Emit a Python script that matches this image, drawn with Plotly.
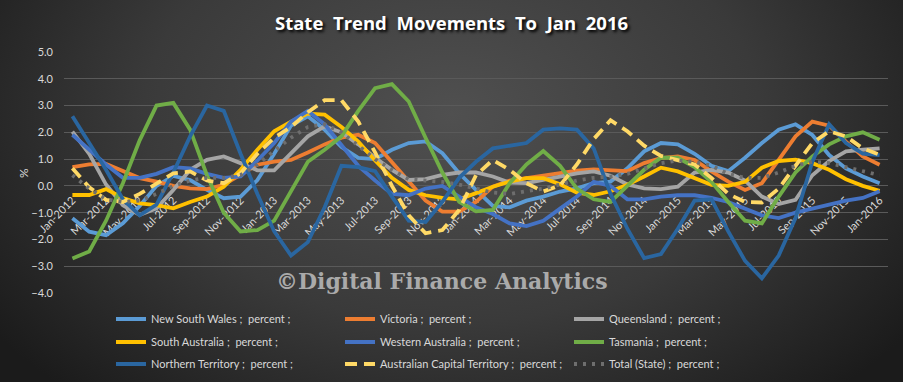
import base64
import plotly.graph_objects as go

# ---------------- data ----------------
MONTHS = ["Jan", "Feb", "Mar", "Apr", "May", "Jun", "Jul", "Aug", "Sep", "Oct", "Nov", "Dec"]
categories = [f"{m}-{y}" for y in range(2012, 2016) for m in MONTHS] + ["Jan-2016"]
tick_labels = categories[::2]

nsw = [-1.21, -1.71, -1.84, -1.4, -0.75, 0.0, 0.37, 0.22, -0.15, -0.46,
       -0.4, 0.22, 1.2, 2.25, 2.6, 2.1, 1.45, 1.05, 1.0, 1.35,
       1.6, 1.66, 1.22, 0.47, -0.15, -0.75, -0.8, -0.55, -0.4, -0.21,
       -0.09, 0.1, 0.16, 0.66, 1.29, 1.6, 1.55, 1.2, 0.75, 0.55,
       1.05, 1.6, 2.1, 2.3, 1.9, 1.15, 0.65, 0.35, 0.1]
vic = [0.7, 0.8, 0.82, 0.54, 0.29, 0.16, 0.0, -0.09, -0.12, 0.04,
       0.41, 0.79, 0.91, 0.97, 1.25, 1.55, 1.8, 1.91, 1.6, 0.9,
       0.15, -0.55, -0.96, -0.96, -0.6, -0.03, 0.2, 0.3, 0.4, 0.5,
       0.57, 0.62, 0.6, 0.55, 0.85, 1.04, 1.1, 0.97, 0.54, 0.16,
       -0.15, 0.1, 0.97, 1.85, 2.4, 2.25, 1.65, 1.1, 0.79]
qld = [2.03, 1.2, 0.05, -0.72, -1.08, -0.84, -0.15, 0.6, 0.97, 1.1,
       0.85, 0.58, 0.58, 1.2, 1.85, 2.22, 2.0, 1.55, 1.05, 0.6,
       0.22, 0.25, 0.41, 0.5, 0.5, 0.35, 0.12, 0.1, 0.22, 0.35,
       0.47, 0.54, 0.38, 0.05, -0.09, -0.12, -0.03, 0.5, 0.6, 0.5,
       0.2, -0.4, -0.68, -0.52, 0.4, 0.93, 1.29, 1.35, 1.4]
sa = [-0.34, -0.34, -0.12, -0.45, -0.65, -0.72, -0.84, -0.6, -0.4, -0.03,
      0.6, 1.35, 2.04, 2.4, 2.7, 2.66, 2.2, 1.65, 0.95, 0.3,
      -0.15, -0.35, -0.45, -0.5, -0.27, -0.03, 0.16, 0.29, 0.29, 0.06,
      -0.25, -0.34, -0.2, 0.04, 0.35, 0.68, 0.54, 0.3, 0.04, 0.0,
      0.15, 0.68, 0.93, 0.98, 0.85, 0.6, 0.25, 0.0, -0.18]
wa = [1.91, 1.35, 0.8, 0.3, 0.3, 0.45, 0.7, 0.65, 0.45, 0.3,
      0.35, 0.95, 1.6, 2.4, 2.8, 2.3, 1.5, 0.75, 0.2, -0.3,
      -0.35, -0.1, 0.0, -0.4, -0.8, -1.05, -1.4, -1.5, -1.3, -0.85,
      -0.4, 0.15, 0.0, -0.5, -0.5, -0.4, -0.35, -0.35, -0.45, -0.6,
      -0.85, -1.1, -1.2, -1.0, -0.85, -0.7, -0.55, -0.45, -0.2]
tas = [-2.71, -2.45, -1.3, 0.1, 1.7, 3.0, 3.1, 2.1, 0.4, -1.0,
       -1.7, -1.65, -1.3, -0.2, 0.9, 1.35, 1.85, 2.8, 3.65, 3.8,
       3.15, 1.8, 0.5, -0.6, -0.95, -0.9, 0.1, 0.8, 1.3, 0.75,
       -0.1, -0.5, -0.6, 0.0, 0.6, 1.05, 1.05, 0.7, 0.15, -0.6,
       -1.3, -1.4, -0.4, 0.5, 1.1, 1.55, 1.85, 2.0, 1.72]
nt = [2.6, 1.6, 0.6, -0.5, -1.1, -0.7, 0.5, 1.85, 3.0, 2.8,
      1.2, -0.3, -1.7, -2.6, -2.1, -0.8, 0.75, 0.7, 0.55, -0.4,
      -1.3, -1.35, -0.6, 0.3, 0.9, 1.4, 1.5, 1.6, 2.1, 2.15,
      2.1, 1.4, -0.3, -1.6, -2.7, -2.55, -1.6, -0.55, -0.5, -1.7,
      -2.8, -3.45, -2.6, -1.2, 0.9, 2.3, 1.6, 1.2, 1.15]
act = [0.66, -0.05, -0.52, -0.6, -0.3, 0.1, 0.47, 0.54, 0.2, 0.1,
       0.47, 1.2, 1.8, 2.2, 2.75, 3.2, 3.2, 2.4, 1.25, 0.0,
       -1.1, -1.77, -1.65, -0.9, 0.4, 0.97, 0.6, 0.1, -0.21, 0.02,
       0.8, 1.75, 2.45, 2.04, 1.5, 1.12, 0.95, 0.8, 0.3, -0.3,
       -0.6, -0.62, -0.1, 0.75, 1.6, 2.04, 1.85, 1.4, 1.16]
total = [0.4, -0.1, -0.5, -0.6, -0.55, -0.3, 0.0, 0.2, 0.3, 0.3,
         0.4, 0.8, 1.3, 1.8, 2.2, 2.3, 2.0, 1.5, 1.0, 0.6,
         0.25, 0.2, 0.15, 0.05, -0.1, -0.25, -0.3, -0.2, -0.1, 0.05,
         0.2, 0.3, 0.35, 0.45, 0.65, 0.85, 0.95, 0.9, 0.75, 0.45,
         0.3, 0.3, 0.5, 0.75, 0.9, 0.85, 0.7, 0.55, 0.4]

series_names = ["New South Wales ;  percent ;", "Victoria ;  percent ;", "Queensland ;  percent ;",
                "South Australia ;  percent ;", "Western Australia ;  percent ;", "Tasmania ;  percent ;",
                "Northern Territory ;  percent ;", "Australian Capital Territory ;  percent ;",
                "Total (State) ;  percent ;"]
series_values = [nsw, vic, qld, sa, wa, tas, nt, act, total]

# ---------------- styles ----------------
colors = ["#5B9BD5", "#ED7D31", "#A5A5A5", "#FFC000", "#4472C4", "#70AD47",
          "#2A66A0", "#FFD966", "#6E6E6E"]
dashes = ["solid"] * 7 + ["12px,7px", "3px,6px"]
widths = [3.8] * 9
legends = ["legend"] * 3 + ["legend2"] * 3 + ["legend3"] * 3

fig = go.Figure()
for name, vals, c, d, w, lg in zip(series_names, series_values, colors, dashes, widths, legends):
    fig.add_trace(go.Scatter(x=categories, y=vals, mode="lines", name=name,
                             line=dict(color=c, width=w, dash=d), legend=lg))

# background gradient (radial, lighter at the top centre)
svg = """<svg xmlns='http://www.w3.org/2000/svg' width='903' height='382' viewBox='0 0 903 382' preserveAspectRatio='none'>
<defs><radialGradient id='g' cx='0.5' cy='0.3' r='0.62' gradientTransform='translate(0.5,0.3) scale(1,1.6) translate(-0.5,-0.3)'>
<stop offset='0' stop-color='#505050'/><stop offset='0.55' stop-color='#3a3a3a'/><stop offset='1' stop-color='#1b1b1b'/>
</radialGradient></defs><rect width='903' height='382' fill='url(#g)'/></svg>"""
bg_uri = "data:image/svg+xml;base64," + base64.b64encode(svg.encode()).decode()

W, H = 903, 382
L, R, T, B = 64, 15, 52, 89
pw, ph = W - L - R, H - T - B

legend_font = dict(family="Lato", size=11, color="#D9D9D9")
leg_common = dict(orientation="h", font=legend_font, bgcolor="rgba(0,0,0,0)",
                  entrywidth=184, entrywidthmode="pixels", xanchor="left", yanchor="middle",
                  x=(111 - L) / pw, itemclick=False)

title_text = "\u00a0 ".join("State Trend Movements To Jan 2016".split(" "))

fig.update_layout(
    width=W, height=H,
    margin=dict(l=L, r=R, t=T, b=B, autoexpand=False),
    paper_bgcolor="#2b2b2b",
    plot_bgcolor="rgba(0,0,0,0)",
    images=[dict(source=bg_uri, xref="paper", yref="paper",
                 x=-L / pw, y=1 + T / ph, sizex=W / pw, sizey=H / ph,
                 xanchor="left", yanchor="top", sizing="stretch", layer="below")],
    title=dict(text=title_text, x=0.5, xanchor="center", xref="container",
               y=1 - 24 / H, yanchor="middle", yref="container",
               font=dict(family="Open Sans", size=18.5, color="#FFFFFF", weight="bold",
                         shadow="2px 2px 3px #000000")),
    xaxis=dict(type="category", range=[-0.5, len(categories) - 0.5],
               tickmode="array", tickvals=tick_labels, ticktext=tick_labels, tickangle=-45,
               showgrid=False, zeroline=False, showline=False, ticks="", ticklabelstandoff=5,
               anchor="free", position=4 / 9, layer="below traces",
               tickfont=dict(family="Lato", size=11, color="#D9D9D9"), automargin=False),
    yaxis=dict(range=[-4, 5], dtick=1, tickformat=".1f", gridcolor="#5A5A5A", gridwidth=1,
               zeroline=False, showline=False, ticks="", ticklabelstandoff=10,
               tickfont=dict(family="Lato", size=11, color="#D9D9D9"), automargin=False),
    legend=dict(**leg_common, y=(H - B - 319) / ph),
    legend2=dict(**leg_common, y=(H - B - 342) / ph),
    legend3=dict(**leg_common, y=(H - B - 364) / ph),
    annotations=[
        dict(text="%", xref="paper", yref="paper", x=(23 - L) / pw, y=(H - B - 173) / ph,
             xanchor="center", yanchor="middle",
             showarrow=False, textangle=-90, font=dict(family="Lato", size=12, color="#D9D9D9")),
        dict(text="©Digital Finance Analytics", xref="paper", yref="paper",
             x=(442 - L) / pw, y=(H - B - 281) / ph, xanchor="center", yanchor="middle",
             showarrow=False,
             font=dict(family="DejaVu Serif", size=22, color="rgba(196,196,196,0.82)", weight="bold")),
    ],
)

fig.write_html("out.html", config={"displayModeBar": False, "staticPlot": True},
               post_script="document.body.style.margin='0';document.body.style.padding='0';"
                           "document.documentElement.style.background='#2b2b2b';")
